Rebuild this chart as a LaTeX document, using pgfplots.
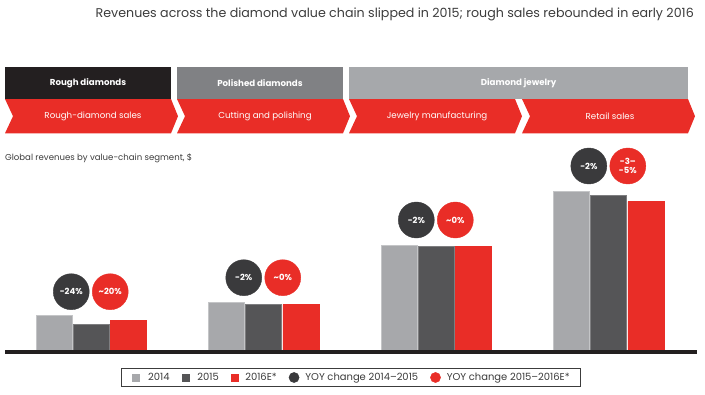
\documentclass[border=0pt]{standalone}
\usepackage{fontspec}
\setmainfont{Poppins}
\usepackage{pgfplots}
\pgfplotsset{compat=1.18}
\definecolor{cA}{HTML}{A7A8AB}
\definecolor{cAb}{HTML}{C4C5C7}
\definecolor{cB}{HTML}{555557}
\definecolor{cBb}{HTML}{7E7E80}
\definecolor{cR}{HTML}{E92D27}
\definecolor{cD}{HTML}{3A3A3C}
\definecolor{cBlk}{HTML}{231F20}
\definecolor{cG2}{HTML}{808184}
\definecolor{cG3}{HTML}{A6A8AB}
\definecolor{cTxt}{HTML}{3C3C3C}
\begin{document}
\begin{tikzpicture}[x=1bp,y=1bp]
\useasboundingbox (0,0) rectangle (705,394);
% title
\node[anchor=east, inner sep=0, text=cTxt, font=\fontsize{12.7}{14}\selectfont] at (694,380)
  {Revenues across the diamond value chain slipped in 2015; rough sales rebounded in early 2016};
% header boxes
\fill[cBlk] (5,327.3) rectangle (171,295);
\fill[cG2] (177,327.3) rectangle (343.3,295);
\fill[cG3] (349.3,327.3) rectangle (688,295);
\node[text=white, font=\fontsize{8.7}{10}\selectfont\bfseries] at (88,311) {Rough diamonds};
\node[text=white, font=\fontsize{8.7}{10}\selectfont\bfseries] at (260,311) {Polished diamonds};
\node[text=white, font=\fontsize{8.7}{10}\selectfont\bfseries] at (518.6,311) {Diamond jewelry};
% chevrons
\foreach \L/\R/\t in {5/171/Rough-diamond sales, 177/343/Cutting and polishing, 349/515/Jewelry manufacturing, 522/688/Retail sales}{
  \fill[cR] (\L,295) -- (\R,295) -- (\R+7,277.8) -- (\R,260.7) -- (\L,260.7) -- (\L+8,277.8) -- cycle;
  \node[text=white, font=\fontsize{8.7}{10}\selectfont] at ({(\L+\R)/2+5},277.8) {\t};
}
% subtitle
\node[anchor=west, inner sep=0, text=cTxt, font=\fontsize{8.6}{10}\selectfont] at (5,236)
  {Global revenues by value-chain segment, \$};
\begin{axis}[
  at={(5bp,42bp)}, anchor=south west,
  width=692bp, height=210bp, scale only axis,
  xmin=-0.5, xmax=3.511, ymin=0, ymax=105,
  axis lines=none, clip=false,
  legend columns=5,
  legend style={at={(0.5,-0.1214)}, anchor=center, draw=cTxt, line width=0.6bp,
    font=\fontsize{10}{11}\selectfont, text=cTxt,
    inner xsep=11bp, inner ysep=3.5bp,
    nodes={inner xsep=0pt, inner ysep=1bp},
    /tikz/every even column/.append style={column sep=12bp}},
]
\addplot[ybar, bar width=36bp, bar shift=-37bp, fill=cA, draw=cAb, line width=0.8bp,
  legend image code/.code={\fill[cA] (0bp,-3.5bp) rectangle (7bp,3.5bp); \path (15bp,0bp);}]
  coordinates {(0,18.15) (1,24.85) (2,53.35) (3,80.35)};
\addplot[ybar, bar width=36bp, bar shift=0bp, fill=cB, draw=cBb, line width=0.8bp,
  legend image code/.code={\fill[cB] (0bp,-3.5bp) rectangle (7bp,3.5bp); \path (15bp,0bp);}]
  coordinates {(0,14.0) (1,23.85) (2,52.65) (3,78.15)};
\addplot[ybar, bar width=36bp, bar shift=37bp, fill=cR, draw=cR, line width=0.5bp,
  legend image code/.code={\fill[cR] (0bp,-3.5bp) rectangle (7bp,3.5bp); \path (14bp,0bp);}]
  coordinates {(0,16.0) (1,23.85) (2,52.65) (3,75.15)};
\addplot[only marks, mark=*, mark size=18bp, color=cD,
  nodes near coords, point meta=explicit symbolic, nodes near coords align={center},
  every node near coord/.append style={anchor=center, text=white, align=center,
    font=\fontsize{8.5}{9.5}\selectfont\bfseries},
  legend image code/.code={\fill[cD] (5bp,0bp) circle (5bp); \path (16bp,0bp);}]
  coordinates {(-0.116,30.15) [-24\%] (0.884,37.15) [-2\%] (1.884,66.0) [-2\%] (2.884,93.0) [-2\%]};
\addplot[only marks, mark=*, mark size=18bp, color=cR,
  nodes near coords, point meta=explicit symbolic, nodes near coords align={center},
  every node near coord/.append style={anchor=center, text=white, align=center,
    font=\fontsize{8.5}{9.5}\selectfont\bfseries},
  legend image code/.code={\fill[cR] (5bp,0bp) circle (5bp); \path (16bp,0bp);}]
  coordinates {(0.110,30.15) [{\textasciitilde20\%}] (1.110,37.15) [{\textasciitilde0\%}] (2.110,66.0) [{\textasciitilde0\%}] (3.110,93.0) [{-3--\\-5\%}]};
\draw[line width=4bp, cBlk] (axis cs:-0.5,0) -- (axis cs:3.511,0);
\legend{2014, 2015, 2016E*, YOY change 2014--2015, YOY change 2015--2016E*}
\end{axis}
\end{tikzpicture}
\end{document}
